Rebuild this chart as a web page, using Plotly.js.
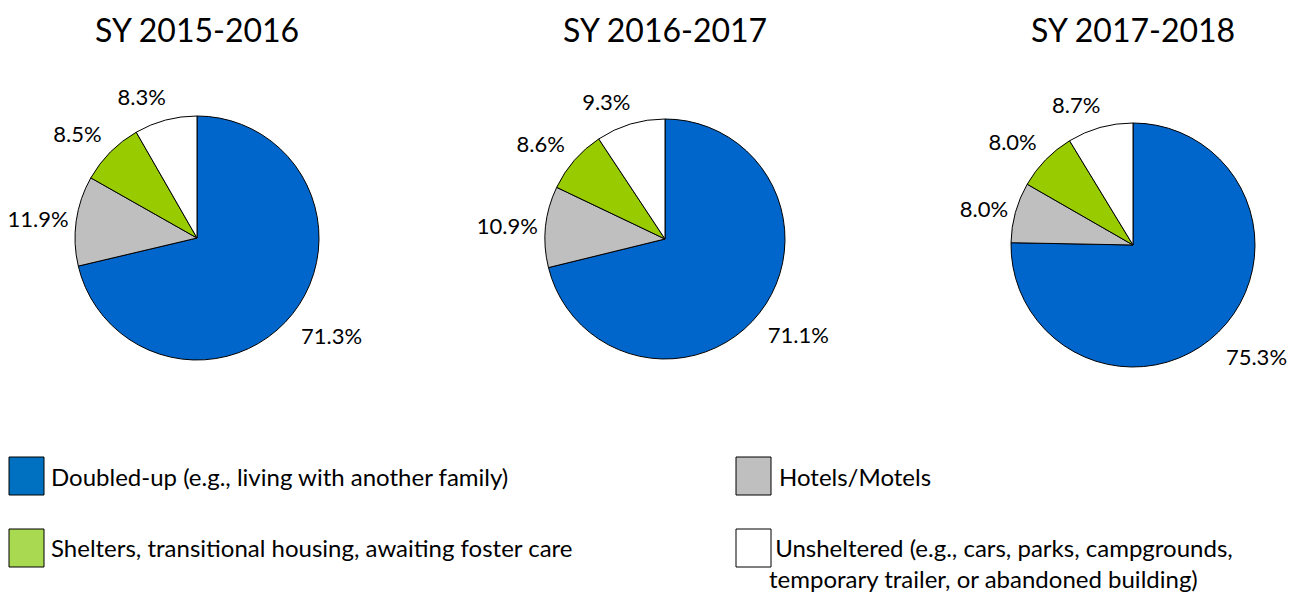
<!DOCTYPE html>
<html>
<head>
<meta charset="utf-8">
<script src="https://cdn.plot.ly/plotly-3.0.1.min.js"></script>
<style>html,body{margin:0;padding:0;background:#fff;}#chart{width:1299px;height:592px;}</style>
</head>
<body>
<div id="chart"></div>
<script>
// ---- data ----
const categories = [
  "Doubled-up (e.g., living with another family)",
  "Hotels/Motels",
  "Shelters, transitional housing, awaiting foster care",
  "Unsheltered (e.g., cars, parks, campgrounds,<br>temporary trailer, or abandoned building)"
];
const years = ["SY 2015-2016", "SY 2016-2017", "SY 2017-2018"];
const values2015 = [71.3, 11.9, 8.5, 8.3];
const values2016 = [71.1, 10.9, 8.6, 9.3];
const values2017 = [75.3, 8.0, 8.0, 8.7];

// ---- styles ----
const sliceColors = ["#0066CC", "#BFBFBF", "#99CC00", "#FFFFFF"];
const legendColors = ["#0070C0", "#BFBFBF", "#A9D851", "#FFFFFF"];
const CLEAR = ["rgba(0,0,0,0)", "rgba(0,0,0,0)", "rgba(0,0,0,0)", "rgba(0,0,0,0)"];
const FONT = "Lato, 'Open Sans', sans-serif";
const W = 1299, H = 592;

function px2x(p){ return p / W; }
function px2y(p){ return 1 - p / H; }

// pie geometry (center x, center y, radius) in pixels
const geo = [[197, 238, 122], [665, 239, 120], [1133, 245, 122]];
const allValues = [values2015, values2016, values2017];
const LABEL_GAP = 11;

function dom(cx, cy, half){
  return {x: [px2x(cx - half), px2x(cx + half)], y: [px2y(cy + half), px2y(cy - half)]};
}

const traces = [];
allValues.forEach((vals, i) => {
  const [cx, cy, r] = geo[i];
  const base = {
    type: "pie", values: vals, labels: categories,
    sort: false, direction: "clockwise", rotation: 0,
    hoverinfo: "skip", showlegend: false
  };
  // visible pie
  traces.push(Object.assign({}, base, {
    marker: {colors: sliceColors, line: {color: "#000000", width: 1}},
    textinfo: "none", textposition: "none",
    domain: dom(cx, cy, r)
  }));
  // transparent pies that only carry the outside percentage labels
  const labelFont = {family: FONT, size: 22, color: "#000"};
  // label of the large slice
  traces.push(Object.assign({}, base, {
    marker: {colors: CLEAR, line: {width: 0}},
    textposition: ["outside", "none", "none", "none"],
    texttemplate: "%{value:.1f}%", textfont: labelFont,
    domain: dom(cx - 7, cy + 10, r + LABEL_GAP)
  }));
  // labels of the small slices
  const pullG = 6 / (r + LABEL_GAP);
  traces.push(Object.assign({}, base, {
    marker: {colors: CLEAR, line: {width: 0}},
    pull: [0, 0, pullG, 0],
    textposition: ["none", "outside", "outside", "outside"],
    texttemplate: "%{value:.1f}%", textfont: labelFont,
    domain: dom(cx + 10, cy, (r + LABEL_GAP) * (1 + pullG))
  }));
});

const annotations = [];
const shapes = [];
// titles
const titleX = [197, 665, 1133];
years.forEach((t, i) => {
  annotations.push({
    text: t, x: px2x(titleX[i]), y: px2y(30), xref: "paper", yref: "paper",
    xanchor: "center", yanchor: "middle", showarrow: false,
    font: {family: FONT, size: 32, color: "#000"}
  });
});

// custom legend: order Doubled-up, Hotels/Motels, Shelters, Unsheltered
const legendPos = [
  {bx: 9, by: 457, tx: 49, ty: 476, pre: ""},
  {bx: 736, by: 457, tx: 777, ty: 476, pre: ""},
  {bx: 9, by: 529, tx: 49, ty: 547, pre: ""},
  {bx: 736, by: 529, tx: 767, ty: 547, pre: "\u00a0"}
];
categories.forEach((c, i) => {
  const p = legendPos[i];
  shapes.push({
    type: "rect", xref: "paper", yref: "paper",
    x0: px2x(p.bx), x1: px2x(p.bx + 35), y0: px2y(p.by + 38), y1: px2y(p.by),
    fillcolor: legendColors[i], line: {color: "#000", width: 1}
  });
  annotations.push({
    text: p.pre + c,
    x: px2x(p.tx), y: px2y(p.ty - 16), xref: "paper", yref: "paper",
    xanchor: "left", yanchor: "top", align: "left", showarrow: false,
    font: {family: FONT, size: 24, color: "#000"}
  });
});

const layout = {
  width: W, height: H,
  margin: {l: 0, r: 0, t: 0, b: 0},
  paper_bgcolor: "#fff", plot_bgcolor: "#fff",
  showlegend: false,
  font: {family: FONT, color: "#000"},
  annotations: annotations,
  shapes: shapes
};

Plotly.newPlot("chart", traces, layout, {displayModeBar: false, staticPlot: true});
</script>
</body>
</html>
